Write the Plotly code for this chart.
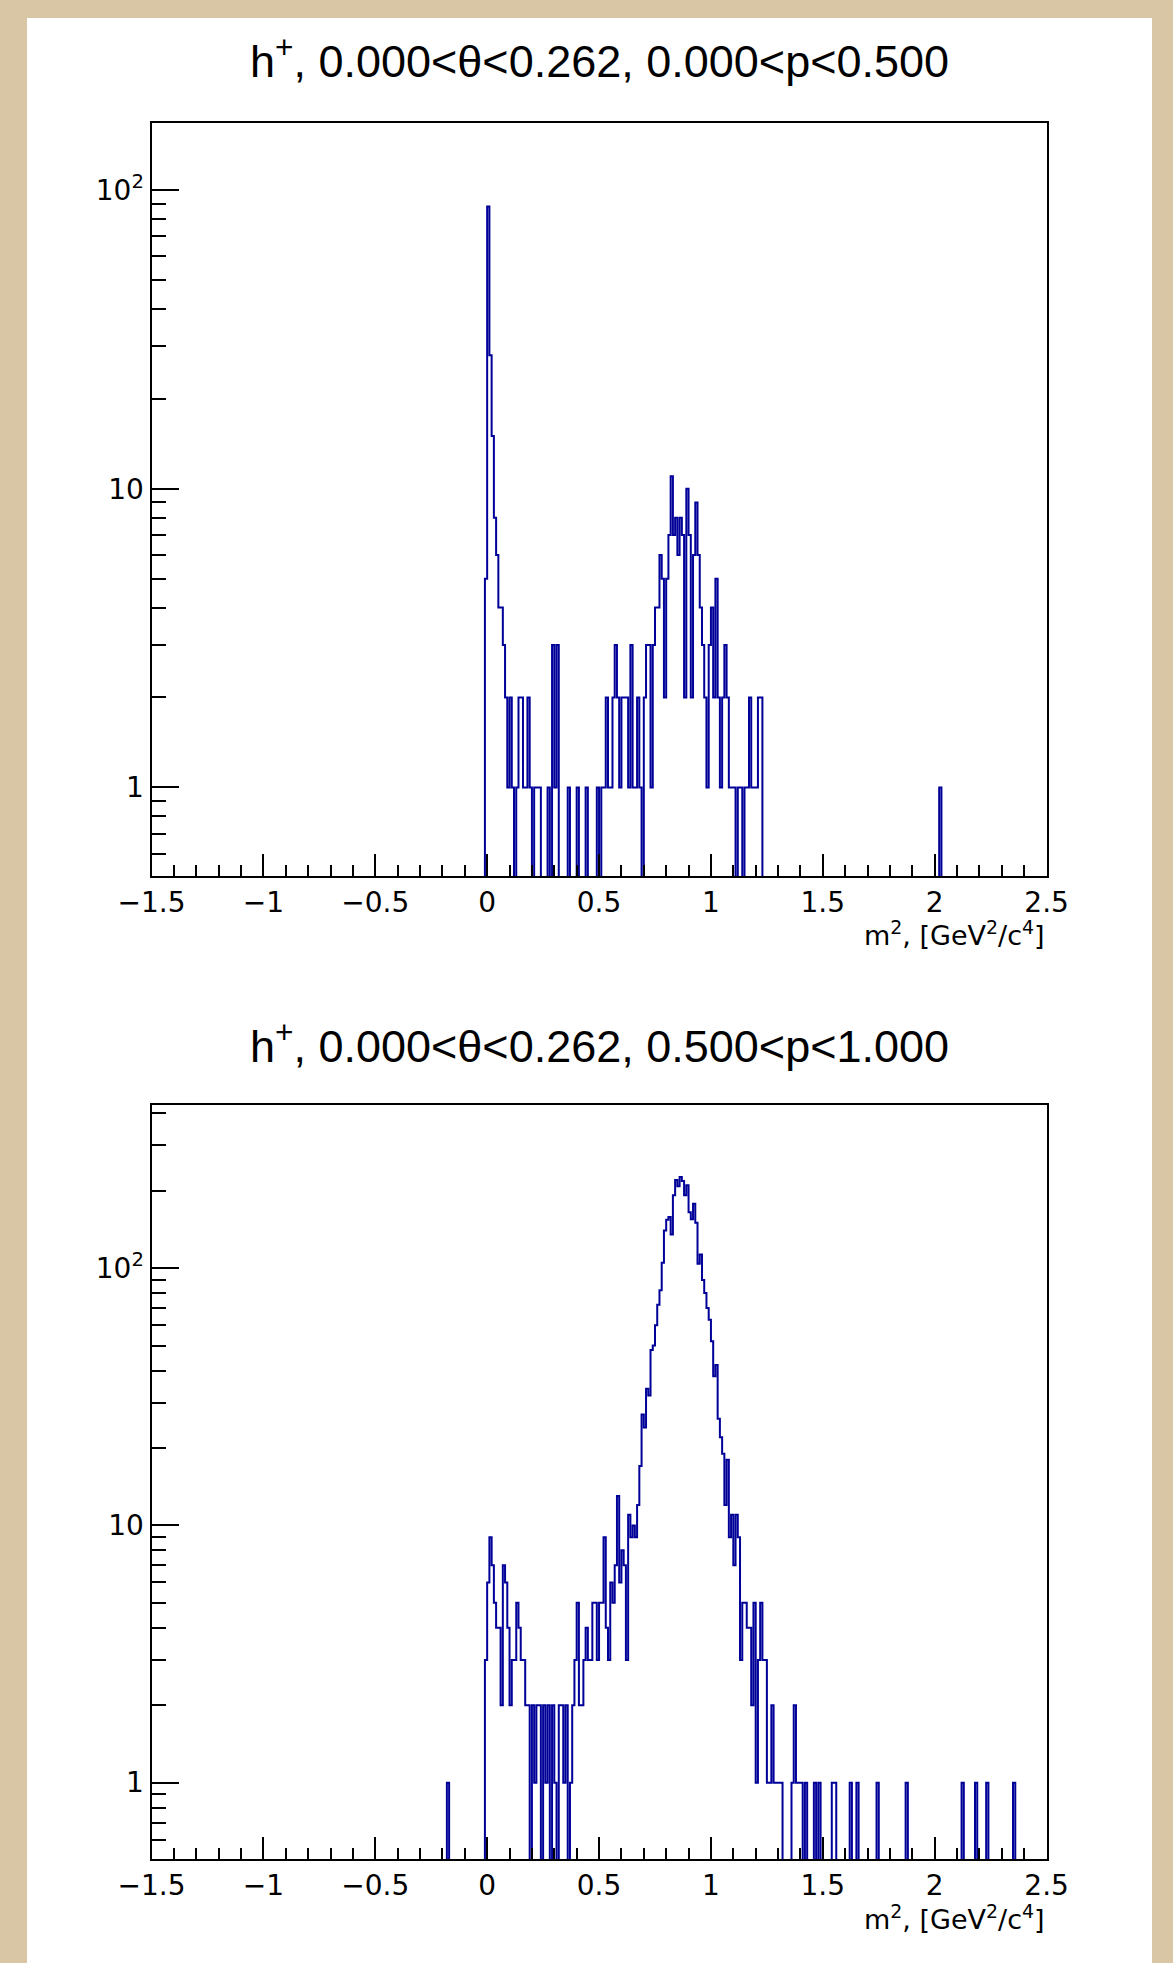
import numpy as np
import plotly.graph_objects as go

# ---------------- data ----------------
X_MIN, X_MAX, N_BINS = -1.5, 2.5, 400   # histogram binning (bin width 0.01)

# top panel: 0.000<p<0.500 ; contiguous counts starting at bin [-0.01, 0.00)
top_first_lo = -0.01
top_counts = [5, 88, 28, 15, 8, 6, 4, 4, 3, 2, 1, 2, 1, 0, 1, 2, 2, 1, 1, 2,
              1, 0, 1, 1, 1, 0, 0, 0, 1, 0, 3, 1, 3, 0, 0, 0, 0, 1, 0, 0,
              0, 1, 0, 0, 0, 1, 0, 0, 0, 0, 1, 0, 1, 1, 2, 1, 1, 2, 3, 2,
              1, 2, 2, 2, 1, 3, 1, 1, 2, 1, 0, 2, 3, 3, 1, 3, 4, 4, 6, 5,
              2, 5, 7, 11, 7, 8, 6, 8, 7, 2, 10, 7, 2, 6, 9, 6, 4, 3, 2, 1,
              3, 4, 2, 5, 2, 1, 2, 3, 2, 1, 1, 1, 0, 1, 1, 0, 1, 1, 2, 1,
              1, 1, 2, 2]
top_single_lo = [2.02]
top_single_counts = [1]

# bottom panel: 0.500<p<1.000 ; contiguous counts starting at bin [-0.01, 0.00)
bot_first_lo = -0.01
bot_counts = [3, 6, 9, 7, 5, 4, 4, 2, 7, 6, 4, 2, 3, 3, 5, 4, 3, 3, 2, 2,
              0, 2, 1, 2, 2, 0, 2, 1, 2, 0, 2, 1, 0, 2, 2, 1, 2, 0, 1, 2,
              3, 5, 2, 2, 3, 4, 3, 3, 5, 5, 3, 5, 5, 9, 4, 3, 6, 5, 7, 13,
              6, 8, 7, 3, 11, 9, 10, 9, 12, 17, 27, 24, 34, 32, 48, 50, 60, 72, 82, 105,
              140, 154, 158, 135, 192, 220, 208, 226, 218, 192, 210, 165, 155, 178, 150, 104, 113, 90, 80, 70,
              63, 52, 38, 42, 26, 22, 19, 12, 18, 9, 11, 7, 11, 9, 3, 5, 5, 4, 4, 2,
              5, 1, 3, 5, 3, 3, 1, 1, 2, 1, 1, 1, 1, 0, 0, 0, 0, 1, 2, 1,
              1, 1, 0, 1]
bot_single_lo = [-0.18, 1.46, 1.48, 1.54, 1.55, 1.62, 1.65, 1.74, 1.87, 2.12, 2.18, 2.23, 2.35]
bot_single_counts = [1, 1, 1, 1, 1, 1, 1, 1, 1, 1, 1, 1, 1]

titles = ["h<sup>+</sup>, 0.000&lt;θ&lt;0.262, 0.000&lt;p&lt;0.500",
          "h<sup>+</sup>, 0.000&lt;θ&lt;0.262, 0.500&lt;p&lt;1.000"]
x_title = "m<sup>2</sup>, [GeV<sup>2</sup>/c<sup>4</sup>]"
x_tickvals = [-1.5, -1, -0.5, 0, 0.5, 1, 1.5, 2, 2.5]
x_ticktext = ["\u22121.5", "\u22121", "\u22120.5", "0", "0.5", "1", "1.5", "2", "2.5"]
y_tickvals = [1, 10, 100]
y_ticktext = ["1", "10", "10<sup>2</sup>"]
y_ranges = [(0.504, 168.0), (0.505, 429.0)]

# ---------------- helpers ----------------
W, H = 1173, 1963
BW = (X_MAX - X_MIN) / N_BINS
edges = X_MIN + BW * np.arange(N_BINS + 1)


def build(first_lo, counts, singles_lo, singles_c):
    h = np.zeros(N_BINS)
    i0 = int(round((first_lo - X_MIN) / BW))
    for j, c in enumerate(counts):
        h[i0 + j] = c
    for lo, c in zip(singles_lo, singles_c):
        h[int(round((lo - X_MIN) / BW))] = c
    return h


hists = [build(top_first_lo, top_counts, top_single_lo, top_single_counts),
         build(bot_first_lo, bot_counts, bot_single_lo, bot_single_counts)]

TITLE_FONT = "Liberation Sans, Arial, Helvetica, sans-serif"
TICK_FONT = "DejaVu Sans, Verdana, sans-serif"
LINE_COL = "#000099"

fig = go.Figure()

# frame positions in pixels (left, right, top, bottom)
frames = [(151.5, 1046.6, 122.7, 876.3), (151.5, 1046.6, 1105.4, 1859.0)]
title_y = [57.6, 1042.8]
xlab_y = [933.0, 1917.0]

minor_y = [v * 10 ** e for e in (-1, 0, 1, 2) for v in range(2, 10)]

for i, h in enumerate(hists):
    ax = "" if i == 0 else str(i + 1)
    ys = np.where(h > 0, h, 1e-3)
    ys = np.append(ys, ys[-1])
    fig.add_trace(go.Scatter(
        x=edges, y=ys, mode="lines", line=dict(color=LINE_COL, width=2, shape="hv"),
        xaxis="x" + ax, yaxis="y" + ax, showlegend=False, hoverinfo="skip"))

    l, r, t, b = frames[i]
    ymin, ymax = y_ranges[i]
    fig.layout["xaxis" + ax] = dict(
        domain=[l / W, r / W], range=[X_MIN, X_MAX], anchor="y" + ax, automargin=False,
        showgrid=False, zeroline=False, showline=True, linecolor="black", linewidth=2, mirror=True,
        tickmode="array", tickvals=x_tickvals, ticktext=x_ticktext,
        ticks="inside", ticklen=22, tickwidth=2, tickcolor="black",
        minor=dict(ticks="inside", ticklen=11, tickwidth=2, tickcolor="black", dtick=0.1, tick0=-1.5, showgrid=False),
        tickfont=dict(family=TICK_FONT, size=28, color="black"))
    fig.layout["yaxis" + ax] = dict(
        domain=[1 - b / H, 1 - t / H], type="log", range=[np.log10(ymin), np.log10(ymax)],
        anchor="x" + ax, automargin=False,
        showgrid=False, zeroline=False, showline=True, linecolor="black", linewidth=2, mirror=True,
        tickmode="array", tickvals=y_tickvals, ticktext=y_ticktext,
        ticks="inside", ticklen=27, tickwidth=2, tickcolor="black",
        minor=dict(ticks="inside", ticklen=14, tickwidth=2, tickcolor="black", tickmode="array",
                   tickvals=minor_y, showgrid=False),
        tickfont=dict(family=TICK_FONT, size=28, color="black"))

    fig.add_annotation(text=titles[i], xref="paper", yref="paper",
                       x=(l + r) / 2 / W, y=1 - title_y[i] / H, xanchor="center", yanchor="middle",
                       showarrow=False, font=dict(family=TITLE_FONT, size=45, color="black"))
    fig.add_annotation(text=x_title, xref="paper", yref="paper",
                       x=r / W, y=1 - xlab_y[i] / H, xanchor="right", yanchor="middle",
                       showarrow=False, font=dict(family=TICK_FONT, size=27, color="black"))

# white canvas over beige page
fig.add_shape(type="rect", xref="paper", yref="paper", x0=27 / W, x1=1152 / W, y0=0, y1=1 - 18 / H,
              fillcolor="white", line=dict(width=0), layer="below")

fig.update_layout(width=W, height=H, autosize=False, margin=dict(l=0, r=0, t=0, b=0, pad=0),
                  paper_bgcolor="#d9c6a5", plot_bgcolor="white", showlegend=False)

fig.write_html("out.html")
